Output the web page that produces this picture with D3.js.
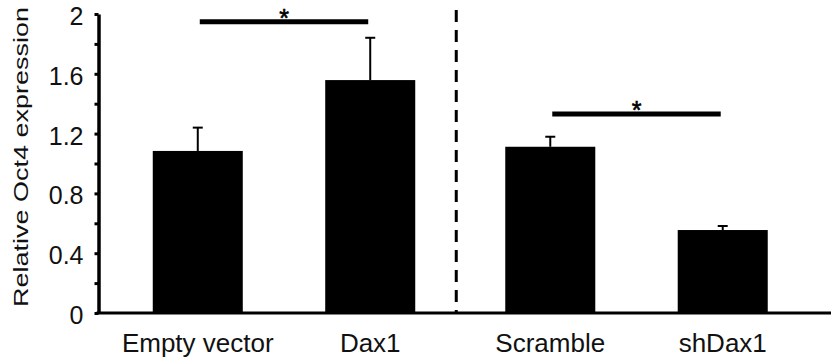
<!DOCTYPE html>
<html>
<head>
<meta charset="utf-8">
<script src="https://cdn.jsdelivr.net/npm/d3@7"></script>
<style>
  body { margin: 0; background: #fff; }
  svg { display: block; font-family: "Liberation Sans", Arial, sans-serif; }
</style>
</head>
<body>
<div id="chart"></div>
<script>
// data
var groups = ["Overexpression", "Knockdown"];
var categories = ["Empty vector", "Dax1", "Scramble", "shDax1"];
var categoryGroup = ["Overexpression", "Overexpression", "Knockdown", "Knockdown"];
var means = [1.084, 1.558, 1.112, 0.555];
var errors = [0.156, 0.283, 0.067, 0.027];
var yTicks = [0, 0.4, 0.8, 1.2, 1.6, 2];
var yMinorTicks = [0.2, 0.6, 1.0, 1.4, 1.8];
// significance brackets: [from index, to index, height]
var sigFrom = [0, 2];
var sigTo = [1, 3];
var sigLevel = [1.948, 1.331];

var W = 831, H = 364;
var axisX = 98.5, baseY = 313;

var svg = d3.select("#chart").append("svg")
    .attr("width", W)
    .attr("height", H);

var y = d3.scaleLinear()
    .domain([0, 2])
    .range([baseY, 14]);

// two groups, two bars in each
var xGroup = d3.scaleBand()
    .domain(groups)
    .range([107.75, 812.75]);

var xInner = d3.scaleBand()
    .domain([0, 1])
    .range([0, xGroup.bandwidth()])
    .paddingInner(0.478)
    .paddingOuter(0.261);

var data = categories.map(function(c, i) {
  return {name: c, group: categoryGroup[i], idx: i % 2, mean: means[i], err: errors[i]};
});

function barLeft(d) { return xGroup(d.group) + xInner(d.idx); }
function barMid(d) { return barLeft(d) + xInner.bandwidth() / 2; }

// bars
svg.selectAll("rect.bar")
  .data(data)
  .enter()
  .append("rect")
    .attr("class", "bar")
    .attr("x", barLeft)
    .attr("y", function(d) { return y(d.mean); })
    .attr("width", xInner.bandwidth())
    .attr("height", function(d) { return y(0) - y(d.mean); })
    .attr("fill", "#000");

// error bars (upper only)
var eb = svg.selectAll("g.err")
  .data(data)
  .enter()
  .append("g")
    .attr("class", "err")
    .attr("stroke", "#000")
    .attr("stroke-width", 2);
eb.append("line")
    .attr("x1", barMid).attr("x2", barMid)
    .attr("y1", function(d) { return y(d.mean); })
    .attr("y2", function(d) { return y(d.mean + d.err); });
eb.append("line")
    .attr("x1", function(d) { return barMid(d) - 5; })
    .attr("x2", function(d) { return barMid(d) + 5; })
    .attr("y1", function(d) { return y(d.mean + d.err); })
    .attr("y2", function(d) { return y(d.mean + d.err); });

// dashed separator between the groups
svg.append("line")
    .attr("x1", xGroup("Knockdown") - 4)
    .attr("x2", xGroup("Knockdown") - 4)
    .attr("y1", y(2) - 4)
    .attr("y2", baseY)
    .attr("stroke", "#000")
    .attr("stroke-width", 3)
    .attr("stroke-dasharray", "12,8");

// significance lines + stars
var sig = sigFrom.map(function(f, i) {
  return {a: data[f], b: data[sigTo[i]], level: sigLevel[i]};
});
svg.selectAll("line.sig")
  .data(sig)
  .enter()
  .append("line")
    .attr("class", "sig")
    .attr("x1", function(d) { return barMid(d.a) + 2; })
    .attr("x2", function(d) { return barMid(d.b) - 2; })
    .attr("y1", function(d) { return y(d.level); })
    .attr("y2", function(d) { return y(d.level); })
    .attr("stroke", "#000")
    .attr("stroke-width", 5);
svg.selectAll("text.star")
  .data(sig)
  .enter()
  .append("text")
    .attr("class", "star")
    .attr("x", function(d) { return (barMid(d.a) + barMid(d.b)) / 2; })
    .attr("y", function(d) { return y(d.level) + 5; })
    .attr("text-anchor", "middle")
    .attr("font-size", 25)
    .attr("stroke", "#000")
    .attr("stroke-width", 0.6)
    .text("*");

// x baseline
svg.append("line")
    .attr("x1", axisX - 2)
    .attr("x2", W)
    .attr("y1", baseY)
    .attr("y2", baseY)
    .attr("stroke", "#000")
    .attr("stroke-width", 3);

// category labels
svg.selectAll("text.cat")
  .data(data)
  .enter()
  .append("text")
    .attr("class", "cat")
    .attr("x", barMid)
    .attr("y", 352)
    .attr("text-anchor", "middle")
    .attr("font-size", 26)
    .attr("fill", "#111")
    .text(function(d) { return d.name; });

// y axis, major and minor ticks
var yAxis = svg.append("g")
    .attr("transform", "translate(" + axisX + ",0)")
    .call(d3.axisLeft(y).tickValues(yTicks).tickSize(4).tickSizeOuter(0).tickPadding(11)
      .tickFormat(function(d) { return d === 0 || d === 2 ? d : d3.format(".1f")(d); }));
yAxis.attr("font-size", 25).attr("font-family", null);
yAxis.select(".domain").attr("stroke-width", 3.5);
yAxis.selectAll(".tick line").attr("stroke-width", 3);
yAxis.selectAll(".tick text")
    .attr("fill", "#111")
    .attr("dy", "0.42em");

var yMinor = svg.append("g")
    .attr("transform", "translate(" + axisX + ",0)")
    .call(d3.axisLeft(y).tickValues(yMinorTicks).tickSize(4).tickFormat(""));
yMinor.select(".domain").remove();
yMinor.selectAll(".tick line").attr("stroke-width", 3);

// y title
svg.append("text")
    .attr("transform", "translate(27.5,157) rotate(-90) scale(1,0.72)")
    .attr("text-anchor", "middle")
    .attr("font-size", 27)
    .attr("fill", "#111")
    .text("Relative Oct4 expression");
</script>
</body>
</html>
